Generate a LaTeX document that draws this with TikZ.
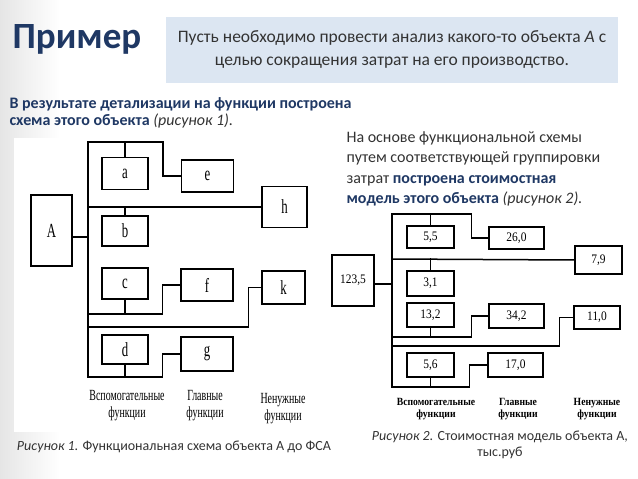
\documentclass[tikz,border=0pt]{standalone}
\usepackage{fontspec}
\setmainfont{Carlito}
\newfontfamily\scanfont[FakeStretch=0.64]{Liberation Serif}
\newfontfamily\numfont[FakeStretch=0.88]{Liberation Serif}
\usetikzlibrary{calc}
\definecolor{navy}{HTML}{1F3864}
\definecolor{boxblue}{HTML}{DCE6F2}
\definecolor{txt}{HTML}{333333}
\tikzset{
  wire/.style={line width=1.5pt, line cap=rect},
  fbox/.style={draw, line width=1.5pt, inner sep=0pt, minimum width=46pt, minimum height=32pt,
    font=\scanfont\fontsize{20}{20}\selectfont},
  vbox/.style={draw, line width=1.3pt, inner sep=0pt, minimum width=47pt, minimum height=24pt,
    font=\numfont\fontsize{13}{13}\selectfont},
  flabel/.style={align=center, inner sep=0pt, font=\scanfont\fontsize{15.5}{17}\selectfont},
  vlabel/.style={align=center, inner sep=0pt, font=\numfont\bfseries\fontsize{11}{12}\selectfont}
}
\begin{document}
\begin{tikzpicture}[x=1pt,y=-1pt]
  \useasboundingbox (0,0) rectangle (638,479);
  \fill[white] (0,0) rectangle (638,479);
  \shade[left color=black!10, right color=white] (0,0) rectangle (60,479);
  \fill[white] (14,138) rectangle (334,432);

  % heading
  \node[text=navy, font=\bfseries\fontsize{37}{37}\selectfont] (title) at (77,39) {Пример};
  \node[fill=boxblue, minimum width=452pt, minimum height=66pt, text=txt, align=center,
    font=\fontsize{17.5}{23}\selectfont] (task) at (392,49.5)
    {Пусть необходимо провести анализ какого-то объекта \textit{А} с\\целью сокращения затрат на его производство.};
  \node[anchor=west, align=left, text=navy, font=\bfseries\fontsize{16}{17}\selectfont] (intro) at (6,112.5)
    {В результате детализации на функции построена\\схема этого объекта {\mdseries\itshape\color{txt}(рисунок 1).}};
  \node[anchor=west, align=left, text=txt, font=\fontsize{16}{20.5}\selectfont] (model) at (343,169)
    {На основе функциональной схемы\\путем соответствующей группировки\\затрат \textbf{\color{navy}построена стоимостная}\\\textbf{\color{navy}модель этого объекта} \textit{(рисунок 2).}};

  % figure 1
  \node[fbox, minimum width=41pt, minimum height=71pt] (A) at (51.5,230.5) {A};
  \node[fbox] (a) at (125,173.5) {a};
  \node[fbox, minimum height=30pt] (b) at (125,231) {b};
  \node[fbox, minimum height=31pt] (c) at (125,283.5) {c};
  \node[fbox, minimum height=29pt] (d) at (125,349.5) {d};
  \node[fbox, minimum width=52pt] (e) at (207.5,176) {e};
  \node[fbox, minimum width=52pt] (f) at (207,285) {f};
  \node[fbox, minimum width=52pt, minimum height=34pt] (g) at (207,354) {g};
  \node[fbox, minimum width=45pt, minimum height=41pt] (h) at (284.5,207) {h};
  \node[fbox, minimum width=43pt, minimum height=33pt] (k) at (283.5,287.5) {k};
  \coordinate (top1) at (88,142);
  \coordinate (mid1) at (88,207);
  \coordinate (hub1) at (88,237);
  \coordinate (low1) at (88,314);
  \coordinate (kk1) at (88,327);
  \coordinate (bot1) at (88,377);
  \draw[wire] (top1) -- (bot1);
  \draw[wire] (A.east |- hub1) -- (hub1);
  \draw[wire] (a.north) -- (a.north |- top1);
  \draw[wire] (top1) -| ($(e.west)+(-18,0)$) -- (e.west);
  \draw[wire] (mid1) -- (h.west);
  \draw[wire] (b.north) -- (b.north |- mid1);
  \draw[wire] (c.south) -- (c.south |- low1);
  \draw[wire] (low1) -| ($(f.west)+(-18,0)$) -- (f.west);
  \draw[wire] (kk1) -| ($(k.west)+(-13,0)$) -- (k.west);
  \draw[wire] (d.south) -- (d.south |- bot1);
  \draw[wire] (bot1) -| ($(g.west)+(-18,0)$) -- (g.west);
  \node[flabel] (aux1) at (127,406) {Вспомогательные\\функции};
  \node[flabel] (main1) at (205,406) {Главные\\функции};
  \node[flabel] (idle1) at (283,409) {Ненужные\\функции};
  \node[text=txt, font=\fontsize{14}{16}\selectfont] (cap1) at (174,447)
    {\textit{Рисунок 1.} Функциональная схема объекта А до ФСА};

  % figure 2
  \node[vbox, minimum width=42pt, minimum height=51pt] (total) at (353,280.5) {123,5};
  \node[vbox, minimum height=22pt] (v55) at (430.5,237) {5,5};
  \node[vbox, minimum width=55pt, minimum height=22pt] (v260) at (516.5,238) {26,0};
  \node[vbox, minimum height=28pt] (v79) at (598.5,260) {7,9};
  \node[vbox, minimum height=25pt] (v31) at (430.5,283.5) {3,1};
  \node[vbox] (v132) at (430.5,315) {13,2};
  \node[vbox, minimum width=55pt] (v342) at (516.5,316) {34,2};
  \node[vbox, minimum width=46pt, minimum height=23pt] (v110) at (597,317.5) {11,0};
  \node[vbox] (v56) at (430.5,365) {5,6};
  \node[vbox, minimum width=55pt] (v170) at (515.5,365) {17,0};
  \coordinate (top2) at (392,214);
  \coordinate (mid2) at (392,259);
  \coordinate (hub2) at (392,284);
  \coordinate (low2) at (392,337);
  \coordinate (kk2) at (392,346);
  \coordinate (bot2) at (392,387);
  \draw[wire] (top2) -- (bot2);
  \draw[wire] (total.east |- hub2) -- (hub2);
  \draw[wire] (v55.north) -- (v55.north |- top2);
  \draw[wire] (top2) -| ($(v260.west)+(-17,0)$) -- (v260.west);
  \draw[wire] (mid2) -- (v79.west);
  \draw[wire] (v31.north) -- (v31.north |- mid2);
  \draw[wire] (v132.south) -- (v132.south |- low2);
  \draw[wire] (low2) -| ($(v342.west)+(-17,0)$) -- (v342.west);
  \draw[wire] (kk2) -| ($(v110.west)+(-14,0)$) -- (v110.west);
  \draw[wire] (v56.south) -- (v56.south |- bot2);
  \draw[wire] (bot2) -| ($(v170.west)+(-18,0)$) -- (v170.west);
  \node[vlabel] (aux2) at (436,409) {Вспомогательные\\функции};
  \node[vlabel] (main2) at (518,409) {Главные\\функции};
  \node[vlabel] (idle2) at (597,409) {Ненужные\\функции};
  \node[align=center, text=txt, font=\fontsize{14}{16}\selectfont] (cap2) at (500,445)
    {\textit{Рисунок 2.} Стоимостная модель объекта А,\\тыс.руб};
\end{tikzpicture}
\end{document}
